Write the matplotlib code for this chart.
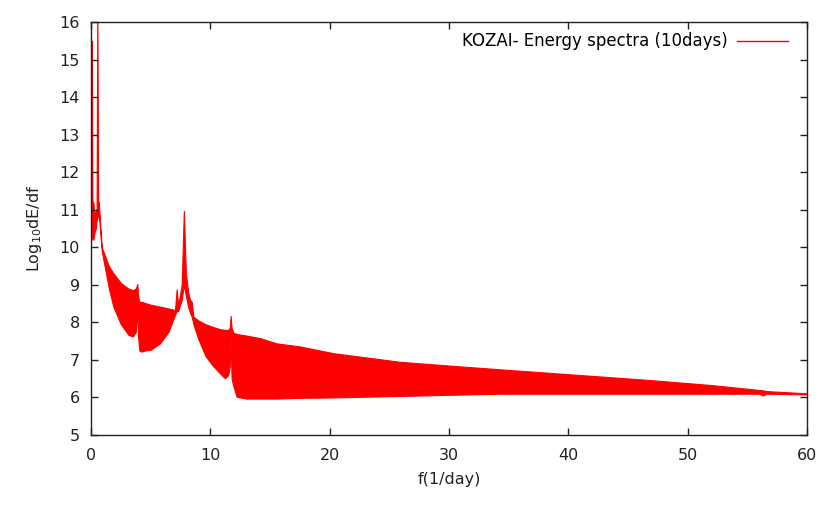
import matplotlib
matplotlib.use("Agg")
import matplotlib.pyplot as plt
from matplotlib.lines import Line2D

# Frequency samples (1/day) with upper and lower envelope of the dense spectrum (log10 dE/df)
freq = [0.00, 0.04, 0.08, 0.12, 0.20, 0.30, 0.40, 0.47, 0.53, 0.60, 0.66, 0.75, 0.90,
        1.20, 1.50, 1.87, 2.50, 3.13, 3.50, 3.75, 3.88, 3.95, 4.05, 4.25, 4.50, 5.00,
        5.78, 6.50, 7.04, 7.18, 7.30, 7.60, 7.78, 7.95, 8.16, 8.30, 8.44, 8.58, 9.00,
        9.60, 10.20, 10.81, 11.23, 11.50, 11.62, 11.70, 11.78, 11.93, 12.20, 13.00,
        14.17, 15.56, 17.50, 20.30, 25.90, 30.00, 34.30, 40.00, 46.60, 52.00, 56.00,
        56.30, 56.60, 60.00]
upper = [11.2, 11.0, 15.5, 10.9, 11.2, 10.8, 11.0, 11.0, 16.5, 11.2, 11.2, 10.7, 10.0,
         9.75, 9.50, 9.31, 9.05, 8.90, 8.86, 8.90, 9.02, 8.70, 8.55, 8.55, 8.52, 8.47,
         8.42, 8.37, 8.33, 8.88, 8.45, 9.00, 10.97, 9.30, 8.77, 8.60, 8.55, 8.15, 8.05,
         7.95, 7.88, 7.82, 7.80, 7.80, 7.85, 8.17, 7.85, 7.73, 7.69, 7.65,
         7.58, 7.44, 7.36, 7.18, 6.95, 6.85, 6.75, 6.62, 6.47, 6.33, 6.20,
         6.19, 6.17, 6.11]
lower = [10.2, 10.2, 10.3, 10.3, 10.2, 10.4, 10.5, 10.7, 10.8, 10.8, 10.9, 10.5, 9.90,
         9.40, 8.90, 8.42, 7.95, 7.67, 7.62, 7.75, 8.30, 7.60, 7.25, 7.22, 7.25, 7.27,
         7.44, 7.75, 8.20, 8.30, 8.30, 8.60, 9.00, 8.70, 8.40, 8.25, 8.15, 7.95, 7.55,
         7.10, 6.85, 6.64, 6.51, 6.60, 6.80, 7.60, 6.50, 6.30, 6.02, 5.97,
         5.97, 5.97, 5.99, 6.00, 6.04, 6.07, 6.10, 6.10, 6.10, 6.10, 6.10,
         6.05, 6.10, 6.08]

xticks = [0, 10, 20, 30, 40, 50, 60]
yticks = [5, 6, 7, 8, 9, 10, 11, 12, 13, 14, 15, 16]
legend_label = "KOZAI- Energy spectra (10days)"

plt.rcParams['font.family'] = ['DejaVu Sans']
fig = plt.figure(figsize=(8.19, 5.05), dpi=100)
ax = fig.add_axes([91/819, 1-435/505, (807-91)/819, (435-22)/505])

ax.fill_between(freq, lower, upper, color='#ff0000', linewidth=0.8, edgecolor='#ff0000')

ax.set_xlim(0, 60)
ax.set_ylim(5, 16)
ax.set_xticks(xticks)
ax.set_yticks(yticks)
ax.tick_params(direction='in', length=5, width=1, top=True, right=True,
               labelsize=11.5, colors='#222222')
ax.tick_params(axis='x', pad=9)
ax.tick_params(axis='y', pad=8)
for s in ax.spines.values():
    s.set_linewidth(1)
    s.set_color('#222222')

ax.set_xlabel("f(1/day)", fontsize=11.5, labelpad=7, color='#222222')
ax.set_ylabel(r"Log$_{10}$dE/df", fontsize=11.5, labelpad=11, color='#222222')

h = Line2D([], [], color='#ff0000', lw=1)
ax.legend([h], [legend_label], loc='upper right', frameon=False, markerfirst=False,
          fontsize=12, handlelength=3.05, handletextpad=0.55,
          borderaxespad=0, borderpad=0.4,
          bbox_to_anchor=((794.7 - 91) / 716, 1 - 3.8 / 413))

fig.savefig("out.png", dpi=100)
